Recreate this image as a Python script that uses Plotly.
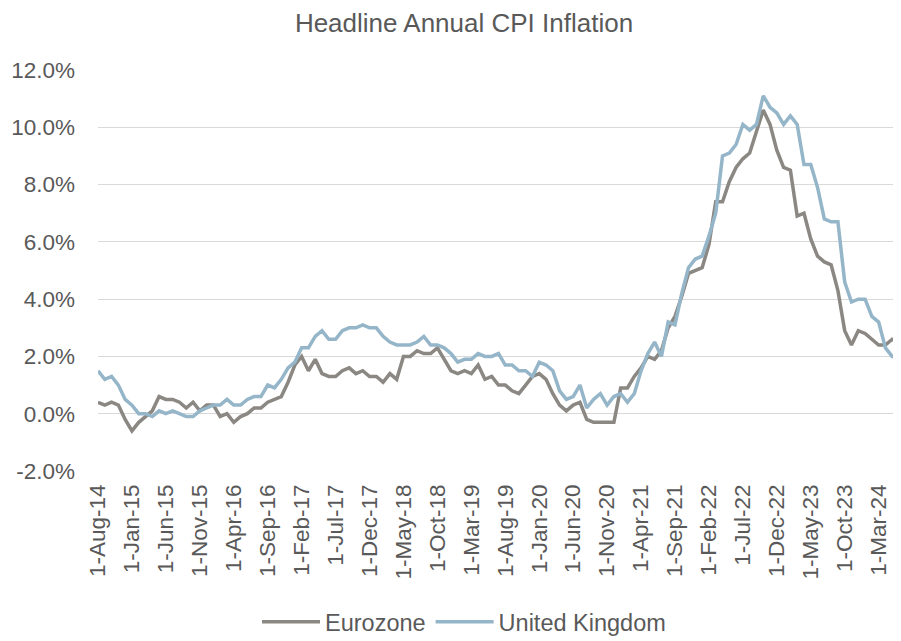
import pandas as pd
import plotly.graph_objects as go

# Monthly observations, Aug-2014 .. Jun-2024
start_month = "2014-08-01"
n_months = 119

eurozone = [
    0.4, 0.3, 0.4, 0.3, -0.2,                                   # 2014 Aug-Dec
    -0.6, -0.3, -0.1, 0.1, 0.6, 0.5, 0.5, 0.4, 0.2, 0.4, 0.1, 0.3,  # 2015
    0.3, -0.1, 0.0, -0.3, -0.1, 0.0, 0.2, 0.2, 0.4, 0.5, 0.6, 1.1,  # 2016
    1.7, 2.0, 1.5, 1.9, 1.4, 1.3, 1.3, 1.5, 1.6, 1.4, 1.5, 1.3,     # 2017
    1.3, 1.1, 1.4, 1.2, 2.0, 2.0, 2.2, 2.1, 2.1, 2.3, 1.9, 1.5,     # 2018
    1.4, 1.5, 1.4, 1.7, 1.2, 1.3, 1.0, 1.0, 0.8, 0.7, 1.0, 1.3,     # 2019
    1.4, 1.2, 0.7, 0.3, 0.1, 0.3, 0.4, -0.2, -0.3, -0.3, -0.3, -0.3,  # 2020
    0.9, 0.9, 1.3, 1.6, 2.0, 1.9, 2.2, 3.0, 3.4, 4.1, 4.9, 5.0,     # 2021
    5.1, 5.9, 7.4, 7.4, 8.1, 8.6, 8.9, 9.1, 9.9, 10.6, 10.1, 9.2,   # 2022
    8.6, 8.5, 6.9, 7.0, 6.1, 5.5, 5.3, 5.2, 4.3, 2.9, 2.4, 2.9,     # 2023
    2.8, 2.6, 2.4, 2.4, 2.6, 2.5,                               # 2024 Jan-Jun
]

united_kingdom = [
    1.5, 1.2, 1.3, 1.0, 0.5,                                    # 2014 Aug-Dec
    0.3, 0.0, 0.0, -0.1, 0.1, 0.0, 0.1, 0.0, -0.1, -0.1, 0.1, 0.2,  # 2015
    0.3, 0.3, 0.5, 0.3, 0.3, 0.5, 0.6, 0.6, 1.0, 0.9, 1.2, 1.6,     # 2016
    1.8, 2.3, 2.3, 2.7, 2.9, 2.6, 2.6, 2.9, 3.0, 3.0, 3.1, 3.0,     # 2017
    3.0, 2.7, 2.5, 2.4, 2.4, 2.4, 2.5, 2.7, 2.4, 2.4, 2.3, 2.1,     # 2018
    1.8, 1.9, 1.9, 2.1, 2.0, 2.0, 2.1, 1.7, 1.7, 1.5, 1.5, 1.3,     # 2019
    1.8, 1.7, 1.5, 0.8, 0.5, 0.6, 1.0, 0.2, 0.5, 0.7, 0.3, 0.6,     # 2020
    0.7, 0.4, 0.7, 1.5, 2.1, 2.5, 2.0, 3.2, 3.1, 4.2, 5.1, 5.4,     # 2021
    5.5, 6.2, 7.0, 9.0, 9.1, 9.4, 10.1, 9.9, 10.1, 11.1, 10.7, 10.5,  # 2022
    10.1, 10.4, 10.1, 8.7, 8.7, 7.9, 6.8, 6.7, 6.7, 4.6, 3.9, 4.0,  # 2023
    4.0, 3.4, 3.2, 2.3, 2.0, 2.0,                               # 2024 Jan-Jun
]

dates = pd.date_range(start_month, periods=n_months, freq="MS")
categories = [f"{d.day}-{d.strftime('%b')}-{d.strftime('%y')}" for d in dates]
tick_labels = categories[::5]

y_ticks = [-2, 0, 2, 4, 6, 8, 10, 12]
y_tick_text = [f"{v:.1f}%" for v in y_ticks]

TEXT = "#595959"
FONT = "Liberation Sans, Arial, sans-serif"

# page has an 8px body margin: figure is 893x633 so it fills the 901x641 window
W, H = 893, 633

fig = go.Figure()
fig.add_trace(go.Scatter(x=categories, y=eurozone, mode="lines", name="Eurozone",
                         line=dict(color="#8B8782", width=3.5)))
fig.add_trace(go.Scatter(x=categories, y=united_kingdom, mode="lines", name="United Kingdom",
                         line=dict(color="#95B5C9", width=3.5)))

fig.update_layout(
    width=W, height=H,
    paper_bgcolor="white", plot_bgcolor="white",
    margin=dict(l=90, r=2, t=62, b=170, autoexpand=False),
    font=dict(family=FONT, size=22, color=TEXT),
    title=dict(text="Headline Annual CPI Inflation", x=456/W, xanchor="center",
               xref="container", y=1 - 15/H, yanchor="middle", yref="container",
               font=dict(size=26, color=TEXT)),
    legend=dict(orientation="h", x=456/W, xanchor="center", xref="container",
                y=1 - 614/H, yanchor="middle", yref="container",
                font=dict(size=23.5, color=TEXT), itemwidth=58),
    showlegend=True,
)
fig.update_xaxes(type="category", range=[0, n_months - 1], tickmode="array",
                 tickvals=tick_labels, ticktext=tick_labels, tickangle=-90,
                 showgrid=False, zeroline=False, showline=False, ticks="",
                 automargin=False, ticklabelstandoff=8,
                 tickfont=dict(size=22.5, color=TEXT))
fig.update_yaxes(range=[-2, 12], tickmode="array", tickvals=y_ticks, ticktext=y_tick_text,
                 showgrid=True, gridcolor="#D9D9D9", gridwidth=1.3, zeroline=False,
                 showline=False, ticks="", automargin=False, ticklabelstandoff=22,
                 tickfont=dict(size=22.5, color=TEXT))

fig.write_html("out.html")
